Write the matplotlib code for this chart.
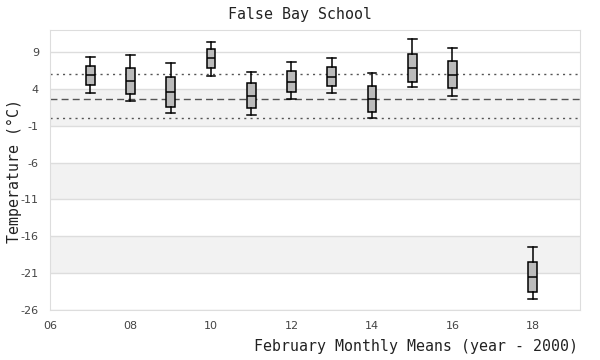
import matplotlib
matplotlib.use("Agg")
import matplotlib.pyplot as plt

plt.rcParams["axes.unicode_minus"] = False

# data (year - 2000, February means)
years = [7, 8, 9, 10, 11, 12, 13, 14, 15, 16, 18]
whislo = [3.46, 2.42, 0.76, 5.76, 0.49, 2.65, 3.46, 0.08, 4.27, 3.05, -24.47]
q1 = [4.54, 3.32, 1.57, 6.84, 1.43, 3.59, 4.41, 0.89, 4.95, 4.14, -23.57]
med = [5.89, 5.12, 3.59, 8.19, 3.05, 4.95, 5.62, 2.65, 6.84, 5.89, -21.54]
q3 = [7.10, 6.84, 5.62, 9.41, 4.81, 6.43, 6.97, 4.41, 8.77, 7.78, -19.51]
whishi = [8.32, 8.59, 7.55, 10.35, 6.30, 7.65, 8.19, 6.16, 10.76, 9.54, -17.49]

ref_mid = 2.65
ref_hi = 6.07
ref_lo = 0.08

yticks = [9, 4, -1, -6, -11, -16, -21, -26]
xticks = [6, 8, 10, 12, 14, 16, 18]
xlabels = ["06", "08", "10", "12", "14", "16", "18"]
gray_bands = [(-1, 4), (-11, -6), (-21, -16)]

fig = plt.figure(figsize=(6, 3.6), dpi=100)
ax = fig.add_axes([50 / 600, 50 / 360, 530 / 600, 280 / 360])

for lo, hi in gray_bands:
    ax.axhspan(lo, hi, color="#f2f2f2", zorder=0, lw=0)
for t in yticks:
    ax.axhline(t, color="#dddddd", lw=1, zorder=1)

ax.axhline(ref_hi, color="#555555", lw=1, ls=(0, (1.5, 3)), zorder=2)
ax.axhline(ref_lo, color="#555555", lw=1, ls=(0, (1.5, 3)), zorder=2)
ax.axhline(ref_mid, color="#555555", lw=1, ls=(0, (5, 3)), zorder=2)

stats = []
for i in range(len(years)):
    stats.append({"whislo": whislo[i], "q1": q1[i], "med": med[i],
                  "q3": q3[i], "whishi": whishi[i], "fliers": []})

ax.bxp(stats, positions=years, widths=0.22, patch_artist=True,
       showfliers=False, manage_ticks=False,
       boxprops=dict(facecolor="#bbbbbb", edgecolor="black", lw=1.1),
       medianprops=dict(color="black", lw=1.1),
       whiskerprops=dict(color="black", lw=1.1),
       capprops=dict(color="black", lw=1.1),
       capwidths=0.22, zorder=3)

ax.set_xlim(6, 19.17)
ax.set_ylim(-26, 12)
ax.set_yticks(yticks)
ax.set_xticks(xticks)
ax.set_xticklabels(xlabels)
ax.tick_params(length=0, labelsize=8, colors="#444444", pad=8)
for s in ax.spines.values():
    s.set_color("#dddddd")

mono = "DejaVu Sans Mono"
fig.text(300 / 600, 1 - 14 / 360, "False Bay School", fontsize=10.7,
         family=mono, color="#222222", ha="center", va="center")
fig.text(578 / 600, 1 - 347 / 360, "February Monthly Means (year - 2000)",
         fontsize=10.7, family=mono, color="#222222", ha="right", va="center")
fig.text(14 / 600, 1 - 171 / 360, "Temperature (°C)", fontsize=10.7,
         family=mono, color="#222222", ha="center", va="center", rotation=90)

fig.savefig("out.png", dpi=100)
